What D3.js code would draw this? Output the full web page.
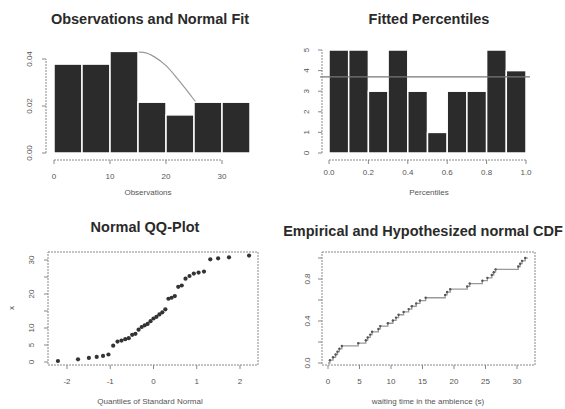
<!DOCTYPE html>
<html><head><meta charset="utf-8">
<script src="https://cdn.jsdelivr.net/npm/d3@7"></script>
<style>
html,body{margin:0;padding:0;background:#fff;}
svg{display:block;font-family:"Liberation Sans",Arial,sans-serif;}
</style></head>
<body>
<svg id="c" width="565" height="409"></svg>
<script>
// ---- data ----
const observations = [0.3,0.8,1.2,1.5,1.8,2.2,4.8,
  6.0,6.3,6.7,7.0,8.0,8.3,9.5,
  10.3,10.8,11.2,12.0,12.8,13.3,14.0,14.6,
  15.5,18.6,18.9,19.4,
  22.1,22.5,24.5,
  25.3,26.0,26.3,26.6,
  30.2,30.5,30.8,31.3];
const histBreaks = [0,5,10,15,20,25,30,35];
const normalFitX = [0,2,4,6,8,10,12,14.5,16,18,20,22,24,26,28,30,32,35];
const normalFitY = [0.010,0.013,0.017,0.022,0.028,0.034,0.0395,0.0430,0.0428,0.0408,0.0372,0.0318,0.0258,0.0196,0.0142,0.0098,0.0064,0.0030];
const histXTicks = [0,10,20,30];
const histYTicks = [0,0.02,0.04];

const percentileBins = [0,0.1,0.2,0.3,0.4,0.5,0.6,0.7,0.8,0.9,1.0];
const percentileCounts = [5,5,3,5,3,1,3,3,5,4];
const percentileExpected = 3.7;
const pctXTicks = [0,0.2,0.4,0.6,0.8,1.0];
const pctYTicks = [0,1,2,3,4,5];

const normalQuantiles = [-2.21,-1.745,-1.494,-1.313,-1.167,-1.042,-0.932,-0.832,-0.740,-0.653,-0.572,-0.493,-0.418,-0.345,-0.274,-0.204,-0.136,-0.068,0,0.068,0.136,0.204,0.274,0.345,0.418,0.493,0.572,0.653,0.740,0.832,0.932,1.042,1.167,1.313,1.494,1.745,2.21];
const qqXTicks = [-2,-1,0,1,2];
const qqYTicks = [0,5,10,15,20,25,30];
const qqYLabels = [0,5,10,20,30];

const cdfXTicks = [0,5,10,15,20,25,30];
const cdfYTicks = [0,0.2,0.4,0.6,0.8,1.0];
const cdfYLabels = [0,0.4,0.8];

const titles = ["Observations and Normal Fit","Fitted Percentiles","Normal QQ-Plot","Empirical and Hypothesized normal CDF"];
const xLabels = ["Observations","Percentiles","Quantiles of Standard Normal","waiting time in the ambience (s)"];

// ---- drawing ----
const svg = d3.select("#c");
const n = observations.length;
const TXT = "#555", AX = "#888";

function title(t, x, y, size){
  svg.append("text").attr("x",x).attr("y",y).attr("text-anchor","middle")
    .attr("dominant-baseline","middle").attr("font-size",size||14.5).attr("font-weight","bold")
    .attr("fill","#2a2a2a").text(t);
}
function label(t,x,y,size){
  svg.append("text").attr("x",x).attr("y",y).attr("text-anchor","middle")
    .attr("dominant-baseline","middle").attr("font-size",size||8).attr("fill",TXT).text(t);
}
function xAxis(scale, ticks, y, labelY, fmt, lineSpan){
  const g = svg.append("g");
  if(lineSpan){
    g.append("line").attr("x1",scale(ticks[0])).attr("x2",scale(ticks[ticks.length-1]))
      .attr("y1",y).attr("y2",y).attr("stroke",AX).attr("stroke-dasharray","2,1");
  }
  ticks.forEach(t=>{
    g.append("line").attr("x1",scale(t)).attr("x2",scale(t)).attr("y1",y).attr("y2",y+4).attr("stroke",AX);
    g.append("text").attr("x",scale(t)).attr("y",labelY).attr("text-anchor","middle")
      .attr("dominant-baseline","middle").attr("font-size",8).attr("fill",TXT).text(fmt(t));
  });
}
function yAxis(scale, ticks, labels, x, labelX, fmt, lineSpan){
  const g = svg.append("g");
  if(lineSpan){
    g.append("line").attr("y1",scale(ticks[0])).attr("y2",scale(ticks[ticks.length-1]))
      .attr("x1",x).attr("x2",x).attr("stroke",AX).attr("stroke-dasharray","2,1");
  }
  ticks.forEach(t=>{
    g.append("line").attr("y1",scale(t)).attr("y2",scale(t)).attr("x1",x).attr("x2",x-4).attr("stroke",AX);
  });
  labels.forEach(t=>{
    g.append("text").attr("transform",`translate(${labelX},${scale(t)}) rotate(-90)`)
      .attr("text-anchor","middle").attr("dominant-baseline","middle")
      .attr("font-size",8).attr("fill",TXT).text(fmt(t));
  });
}

// Panel 1: histogram + normal fit
{
  const x = d3.scaleLinear([0,35],[54,250]);
  const y = d3.scaleLinear([0,0.04],[153,59]);
  const bins = d3.bin().domain([0,35]).thresholds(histBreaks.slice(1,-1))(observations);
  const line = d3.line().x((d,i)=>x(normalFitX[i])).y(d=>y(d)).curve(d3.curveMonotoneX);
  svg.append("path").attr("d",line(normalFitY)).attr("fill","none").attr("stroke","#999").attr("stroke-width",1.2);
  svg.append("g").selectAll("rect").data(bins).join("rect")
    .attr("x",d=>x(d.x0)).attr("width",d=>x(d.x1)-x(d.x0))
    .attr("y",d=>y(d.length/(n*5))).attr("height",d=>y(0)-y(d.length/(n*5)))
    .attr("fill","#2b2b2b").attr("stroke","#fff").attr("stroke-width",1.5);
  xAxis(x, histXTicks, 160, 177, d=>String(d), true);
  yAxis(y, histYTicks, histYTicks, 46, 30, d3.format(".2f"), true);
  title(titles[0],150,20);
  label(xLabels[0],148,193);
}

// Panel 2: fitted percentiles
{
  const x = d3.scaleLinear([0,1],[329,526]);
  const y = d3.scaleLinear([0,5],[153,50]);
  svg.append("g").selectAll("rect").data(percentileCounts).join("rect")
    .attr("x",(d,i)=>x(percentileBins[i])).attr("width",(d,i)=>x(percentileBins[i+1])-x(percentileBins[i]))
    .attr("y",d=>y(d)).attr("height",d=>y(0)-y(d))
    .attr("fill","#2b2b2b").attr("stroke","#fff").attr("stroke-width",1.5);
  svg.append("line").attr("x1",x(-0.045)).attr("x2",x(1.02)).attr("y1",y(percentileExpected)).attr("y2",y(percentileExpected))
    .attr("stroke","#777").attr("stroke-width",1.2);
  xAxis(x, pctXTicks, 160, 173, d3.format(".1f"), true);
  yAxis(y, pctYTicks, pctYTicks, 322, 307, d=>String(d), true);
  title(titles[1],429,20);
  label(xLabels[1],429,193);
}

// Panel 3: QQ plot
{
  const x = d3.scaleLinear([-2,2],[67,240]);
  const y = d3.scaleLinear([0,30],[362,260]);
  svg.append("rect").attr("x",48).attr("y",252).attr("width",210).attr("height",113)
    .attr("fill","none").attr("stroke",AX).attr("stroke-dasharray","2,1");
  svg.append("g").selectAll("circle").data(observations).join("circle")
    .attr("cx",(d,i)=>x(normalQuantiles[i])).attr("cy",d=>y(d)).attr("r",2.1)
    .attr("fill","#333");
  xAxis(x, qqXTicks, 365, 382, d=>String(d), false);
  yAxis(y, qqYTicks, qqYLabels, 48, 32, d=>String(d), false);
  title(titles[2],145,228,14.5);
  label(xLabels[2],150,402);
  svg.append("text").attr("transform","translate(12,308) rotate(-90)").attr("text-anchor","middle")
    .attr("dominant-baseline","middle").attr("font-size",8).attr("fill",TXT).text("x");
}

// Panel 4: ECDF
{
  const x = d3.scaleLinear([0,30],[328,517]);
  const y = d3.scaleLinear([0,1],[363,258]);
  svg.append("rect").attr("x",322).attr("y",252).attr("width",213).attr("height",113)
    .attr("fill","none").attr("stroke",AX).attr("stroke-dasharray","2,1");
  const pts = [[0,0]].concat(observations.map((v,i)=>[v,(i+1)/n]));
  pts.push([observations[n-1]+0.4,1]);
  const line = d3.line().x(d=>x(d[0])).y(d=>y(d[1])).curve(d3.curveStepAfter);
  svg.append("path").attr("d",line(pts)).attr("fill","none").attr("stroke","#999").attr("stroke-width",1.3);
  svg.append("g").selectAll("circle").data(observations).join("circle")
    .attr("cx",d=>x(d)).attr("cy",(d,i)=>y((i+1)/n)).attr("r",1.2).attr("fill","#555");
  xAxis(x, cdfXTicks, 365, 382, d=>String(d), false);
  yAxis(y, cdfYTicks, cdfYLabels, 322, 308, d3.format(".1f"), false);
  title(titles[3],423,232);
  label(xLabels[3],428,402);
}
</script>
</body></html>
